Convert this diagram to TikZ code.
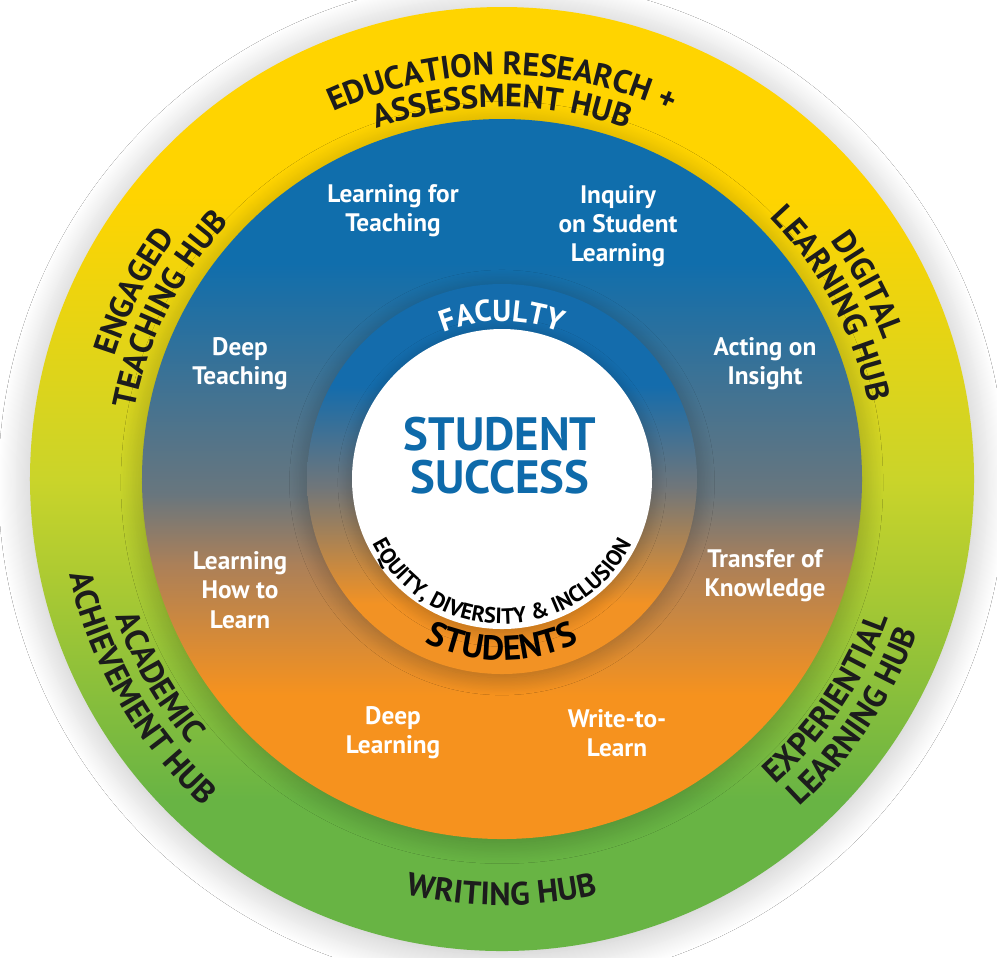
\documentclass[tikz,border=0pt]{standalone}
\usepackage{fontspec}
\setmainfont{PT Sans}
\usetikzlibrary{decorations.text, shadows.blur}
\definecolor{HubYellow}{RGB}{255, 212, 0}
\definecolor{HubLime}{RGB}{202, 212, 42}
\definecolor{HubGreen}{RGB}{104, 180, 68}
\definecolor{CoreBlue}{RGB}{16, 110, 172}
\definecolor{CoreGrey}{RGB}{104, 118, 126}
\definecolor{CoreBrown}{RGB}{172, 128, 88}
\definecolor{CoreOrange}{RGB}{246, 146, 30}
\definecolor{RingBlue}{RGB}{20, 108, 172}
\definecolor{RingGrey}{RGB}{112, 118, 122}
\definecolor{RingOrange}{RGB}{242, 146, 36}
\definecolor{SuccessBlue}{RGB}{14, 106, 170}
\definecolor{HubInk}{RGB}{28, 28, 28}

\pgfdeclareverticalshading{hubshade}{100bp}{color(0bp)=(HubGreen); color(33bp)=(HubGreen);
  color(50bp)=(HubLime); color(65bp)=(HubYellow); color(100bp)=(HubYellow)}
\pgfdeclareverticalshading{coreshade}{100bp}{color(0bp)=(CoreOrange); color(35bp)=(CoreOrange);
  color(44bp)=(CoreBrown); color(49bp)=(CoreGrey); color(65bp)=(CoreBlue); color(100bp)=(CoreBlue)}
\pgfdeclareverticalshading{ringshade}{100bp}{color(0bp)=(RingOrange); color(34bp)=(RingOrange);
  color(49bp)=(RingGrey); color(62bp)=(RingBlue); color(100bp)=(RingBlue)}

\newcommand{\hubfont}{\fontsize{9.2}{10}\selectfont\bfseries\color{HubInk}}
\newcommand{\rimfont}{\fontsize{8.6}{9}\selectfont\bfseries}
\newcommand{\deifont}{\fontsize{6.3}{7}\selectfont\bfseries}

\tikzset{
  practice/.style={text=white, font=\fontsize{7.2}{8.3}\selectfont\bfseries, align=center},
  overtext/.style={decorate, decoration={text along path, text align=center, text={|\hubfont|#1}}},
  undertext/.style={decorate, decoration={text along path, text align=center, text={|\hubfont|#1}}},
  softshadow/.style={blur shadow={shadow xshift=0pt, shadow yshift=-1pt, shadow blur steps=30,
                     shadow blur radius=#1, shadow opacity=25}}
}

\begin{document}
\begin{tikzpicture}
\useasboundingbox[fill=white] (-5.02,-4.78) rectangle (4.95,4.79);

% hub ring, core disk, inner ring, centre
\path[shading=hubshade, softshadow=9pt] (0,0) circle (4.72);
\path[shading=coreshade, softshadow=6pt] (0,0) circle (3.60);
\path[shading=ringshade, softshadow=5pt] (0,0) circle (1.95);
\path[fill=white, softshadow=4pt] (0,0) circle (1.50);

% hubs on the outer ring (upper ones read clockwise, lower ones anticlockwise)
\path[overtext={EDUCATION RESEARCH +}] (150:4.04) arc[start angle=150, end angle=30, radius=4.04];
\path[overtext={ASSESSMENT HUB}] (150:3.72) arc[start angle=150, end angle=30, radius=3.72];
\path[overtext={ENGAGED}] (213:4.06) arc[start angle=213, end angle=93, radius=4.06];
\path[overtext={TEACHING HUB}] (213:3.74) arc[start angle=213, end angle=93, radius=3.74];
\path[overtext={DIGITAL}] (88:4.06) arc[start angle=88, end angle=-32, radius=4.06];
\path[overtext={LEARNING HUB}] (88:3.74) arc[start angle=88, end angle=-32, radius=3.74];
\path[undertext={ACADEMIC}] (150:4.10) arc[start angle=150, end angle=270, radius=4.10];
\path[undertext={ACHIEVEMENT HUB}] (150:4.43) arc[start angle=150, end angle=270, radius=4.43];
\path[undertext={EXPERIENTIAL}] (-94:4.10) arc[start angle=-94, end angle=26, radius=4.10];
\path[undertext={LEARNING HUB}] (-94:4.43) arc[start angle=-94, end angle=26, radius=4.43];
\path[undertext={WRITING HUB}] (-150:4.26) arc[start angle=-150, end angle=-30, radius=4.26];

% practices in the core disk
\node[practice] (lt) at (-1.09, 2.68) {Learning for\\Teaching};
\node[practice] (is) at (1.16, 2.53) {Inquiry\\on Student\\Learning};
\node[practice] (dt) at (-2.62, 1.15) {Deep\\Teaching};
\node[practice] (ai) at (2.63, 1.15) {Acting on\\Insight};
\node[practice] (hl) at (-2.62, -1.11) {Learning\\How to\\Learn};
\node[practice] (tk) at (2.63, -0.97) {Transfer of\\Knowledge};
\node[practice] (dl) at (-1.09, -2.54) {Deep\\Learning};
\node[practice] (wl) at (1.15, -2.54) {Write-to-\\Learn};

% inner ring and centre
\path[decorate, decoration={text along path, text align=center, text={|\rimfont\color{white}|FACULTY}}]
  (150:1.58) arc[start angle=150, end angle=30, radius=1.58];
\path[decorate, decoration={text along path, text align=center,
      text={|\fontsize{9.8}{10}\selectfont\bfseries\color{black}|STUDENTS}}]
  (-150:1.81) arc[start angle=-150, end angle=-30, radius=1.81];
\path[decorate, decoration={text along path, text align=center,
      text={|\deifont\color{black}|EQUITY, DIVERSITY {\&} INCLUSION}}]
  (170:1.45) arc[start angle=170, end angle=370, radius=1.45];
\node[font=\fontsize{13.3}{12.3}\selectfont\bfseries, text=SuccessBlue, align=center] (ss)
  at (-0.02, 0.23) {STUDENT\\SUCCESS};
\end{tikzpicture}
\end{document}
